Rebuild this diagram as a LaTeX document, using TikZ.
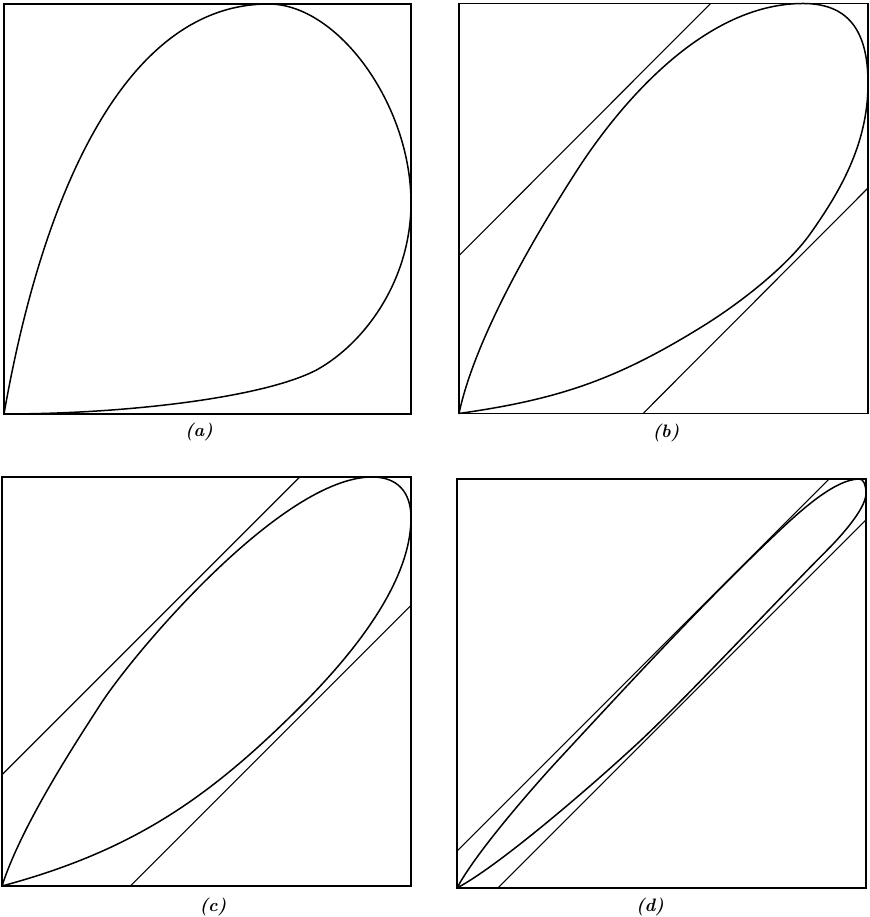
\documentclass[tikz,border=0pt]{standalone}
\usepackage{fontspec}
\usepackage{tikz}

\begin{document}
\begin{tikzpicture}[x=1pt,y=1pt,
  frame/.style={line width=1.1pt},
  curve/.style={line width=1.5pt, line join=round},
  band/.style={line width=1.1pt},
  caption/.style={font=\fontsize{18}{21}\selectfont\bfseries\itshape}]
  \useasboundingbox (0,0) rectangle (869,917);

  % Panel (a)
  \begin{scope}[shift={(4pt,503pt)}, x=407pt, y=410pt]
    \draw[frame] (0,0) rectangle (1,1);
    \draw[curve] (0,0) .. controls (0.0955,0.542) and (0.30,1) .. (0.65,1)
      .. controls (0.82,1) and (1,0.755) .. (1,0.515)
      .. controls (1,0.330) and (0.890,0.175) .. (0.769,0.108)
      .. controls (0.640,0.040) and (0.30,0) .. (0,0);
  \end{scope}
  \node[caption] (capa) at (199,485) {(a)};

  % Panel (b)
  \begin{scope}[shift={(459pt,503.5pt)}, x=409pt, y=410pt]
    \draw[frame] (0,0) rectangle (1,1);
    \draw[curve] (0,0) .. controls (0.0416,0.1956) and (0.203,0.460) .. (0.284,0.586)
      .. controls (0.381,0.738) and (0.591,1) .. (0.841,1)
      .. controls (0.951,1) and (1,0.935) .. (1,0.805)
      .. controls (1,0.655) and (0.929,0.538) .. (0.86,0.44)
      .. controls (0.802,0.358) and (0.686,0.269) .. (0.601,0.216)
      .. controls (0.3885,0.084) and (0.2475,0.035) .. (0,0);
    \draw[band] (0,0.385) -- (0.615,1);
    \draw[band] (0.45,0) -- (1,0.55);
  \end{scope}
  \node[caption] (capb) at (666,484) {(b)};

  % Panel (c)
  \begin{scope}[shift={(2pt,31pt)}, x=409pt, y=409pt]
    \draw[frame] (0,0) rectangle (1,1);
    \draw[curve] (0,0) .. controls (0.049,0.152) and (0.186,0.359) .. (0.24,0.443)
      .. controls (0.321,0.569) and (0.685,1) .. (0.905,1)
      .. controls (0.965,1) and (1,0.965) .. (1,0.90)
      .. controls (1,0.75) and (0.872,0.581) .. (0.731,0.44)
      .. controls (0.508,0.217) and (0.3226,0.0865) .. (0,0);
    \draw[band] (0,0.272) -- (0.728,1);
    \draw[band] (0.314,0) -- (1,0.686);
  \end{scope}
  \node[caption] (capc) at (213,10) {(c)};

  % Panel (d)
  \begin{scope}[shift={(457pt,29pt)}, x=409pt, y=409pt]
    \draw[frame] (0,0) rectangle (1,1);
    \draw[curve] (0,0) .. controls (0.047,0.088) and (0.186,0.246) .. (0.24,0.305)
      .. controls (0.41,0.4885) and (0.599,0.694) .. (0.78,0.866)
      .. controls (0.838,0.921) and (0.924,1) .. (0.984,1)
      .. controls (0.994,1) and (1,0.985) .. (1,0.965)
      .. controls (1,0.925) and (0.930,0.851) .. (0.902,0.823)
      .. controls (0.796,0.717) and (0.553,0.457) .. (0.443,0.355)
      .. controls (0.333,0.253) and (0.106,0.0563) .. (0,0);
    \draw[band] (0,0.09) -- (0.91,1);
    \draw[band] (0.10,0) -- (1,0.90);
  \end{scope}
  \node[caption] (capd) at (650,10) {(d)};
\end{tikzpicture}
\end{document}
